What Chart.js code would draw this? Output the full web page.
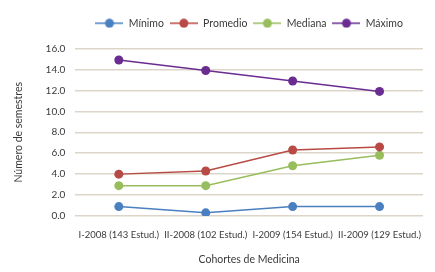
<!DOCTYPE html>
<html>
<head>
<meta charset="utf-8">
<script src="https://cdn.jsdelivr.net/npm/chart.js@4"></script>
<style>
    html, body { margin: 0; padding: 0; background: #fff; }
    #wrap { width: 435px; height: 272px; position: relative; }
</style>
</head>
<body>
<div id="wrap"><canvas id="chart"></canvas></div>
<script>
var cohortes = ['I-2008 (143 Estud.)', 'II-2008 (102 Estud.)', 'I-2009 (154 Estud.)', 'II-2009 (129 Estud.)'];
var minimo = [0.9, 0.3, 0.9, 0.9];
var promedio = [4.0, 4.3, 6.3, 6.6];
var mediana = [2.9, 2.9, 4.8, 5.8];
var maximo = [14.9, 13.9, 12.9, 11.9];
var yTicks = [0, 2, 4, 6, 8, 10, 12, 14, 16];

(function () {
    var fontFamily = 'Lato, "Open Sans", sans-serif';
    var textColor = '#3a3a3a';
    var gridColor = '#ddd5ca';

    var colors = {
        minimo: '#4a7fc0',
        promedio: '#b84a45',
        mediana: '#98bd5c',
        maximo: '#6a2c91',
    };

    // small line + dot icon, like the legend in the original
    function legendIcon(color) {
        var c = document.createElement('canvas');
        c.width = 28;
        c.height = 10;
        var g = c.getContext('2d');
        g.strokeStyle = color;
        g.lineWidth = 1.5;
        g.beginPath();
        g.moveTo(0, 5);
        g.lineTo(28, 5);
        g.stroke();
        g.fillStyle = color;
        g.beginPath();
        g.arc(14, 5, 4.5, 0, Math.PI * 2);
        g.fill();
        return c;
    }

    function series(label, data, color) {
        return {
            label: label,
            data: data,
            borderColor: color,
            backgroundColor: color,
            borderWidth: 1.5,
            pointRadius: 4.5,
            pointHoverRadius: 4.5,
            pointBorderWidth: 0,
            tension: 0,
            icon: legendIcon(color),
        };
    }

    // extra space under the legend, and legend centred over the plot area
    var legendTweak = {
        id: 'legendTweak',
        beforeInit: function (chart) {
            var fit = chart.legend.fit;
            chart.legend.fit = function () {
                fit.call(this);
                this.height += 10;
            };
        },
        afterLayout: function (chart) {
            var lg = chart.legend;
            var area = chart.chartArea;
            lg.left = area.left;
            lg.right = area.right;
        },
    };

    var ctx = document.getElementById('chart').getContext('2d');
    new Chart(ctx, {
        type: 'line',
        data: {
            labels: cohortes,
            datasets: [
                series('Mínimo', minimo, colors.minimo),
                series('Promedio', promedio, colors.promedio),
                series('Mediana', mediana, colors.mediana),
                series('Máximo', maximo, colors.maximo),
            ],
        },
        plugins: [legendTweak],
        options: {
            responsive: true,
            maintainAspectRatio: false,
            animation: false,
            layout: { padding: { left: 8, right: 12, top: 12, bottom: 2 } },
            plugins: {
                legend: {
                    position: 'top',
                    labels: {
                        usePointStyle: true,
                        pointStyleWidth: 28,
                        boxHeight: 10,
                        padding: 6,
                        color: textColor,
                        font: { family: fontFamily, size: 10.5 },
                        generateLabels: function (chart) {
                            return chart.data.datasets.map(function (ds, i) {
                                return {
                                    text: ds.label,
                                    fillStyle: ds.borderColor,
                                    strokeStyle: ds.borderColor,
                                    pointStyle: ds.icon,
                                    fontColor: textColor,
                                    datasetIndex: i,
                                    hidden: false,
                                };
                            });
                        },
                    },
                },
                tooltip: { enabled: false },
            },
            scales: {
                x: {
                    offset: true,
                    grid: { display: false },
                    border: { display: false },
                    ticks: {
                        color: textColor,
                        padding: 5,
                        maxRotation: 0,
                        autoSkip: false,
                        font: { family: fontFamily, size: 9.5 },
                    },
                    title: {
                        display: true,
                        text: 'Cohortes de Medicina',
                        color: textColor,
                        padding: { top: 8 },
                        font: { family: fontFamily, size: 10.5 },
                    },
                },
                y: {
                    min: yTicks[0],
                    max: yTicks[yTicks.length - 1],
                    afterBuildTicks: function (axis) {
                        axis.ticks = yTicks.map(function (v) { return { value: v }; });
                    },
                    grid: { color: gridColor, lineWidth: 1.5, drawTicks: false },
                    border: { display: false },
                    ticks: {
                        color: textColor,
                        padding: 10,
                        font: { family: fontFamily, size: 10 },
                        callback: function (value) {
                            return value.toFixed(1);
                        },
                    },
                    title: {
                        display: true,
                        text: 'Número de semestres',
                        color: textColor,
                        padding: { bottom: 11 },
                        font: { family: fontFamily, size: 10.5 },
                    },
                },
            },
        },
    });
})();
</script>
</body>
</html>
